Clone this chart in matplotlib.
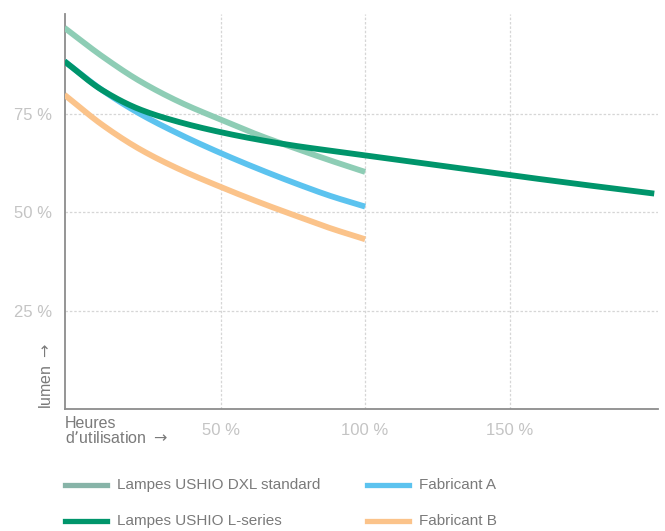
import matplotlib
matplotlib.use("Agg")
import numpy as np
import matplotlib.pyplot as plt
from matplotlib.lines import Line2D

# ---- data ----
hours_short = [-4, 9, 22, 36, 50, 63, 77, 88, 100]
hours_long = hours_short + [125, 150, 175, 200]

dxl_standard = [96.8, 89.6, 83.3, 77.9, 73.5, 69.6, 65.9, 63.1, 60.2]
l_series = [88.3, 81.0, 76.1, 72.8, 70.3, 68.4, 66.7, 65.6, 64.4,
            61.9, 59.4, 57.0, 54.7]
fabricant_a = [88.3, 81.0, 75.0, 69.7, 65.0, 61.0, 57.0, 54.1, 51.4]
fabricant_b = [79.8, 72.2, 66.0, 60.8, 56.4, 52.6, 48.8, 45.9, 43.1]

x_ticks = [50, 100, 150]
x_ticklabels = ["50 %", "100 %", "150 %"]
y_ticks = [25, 50, 75]
y_ticklabels = ["25 %", "50 %", "75 %"]

labels = ["Lampes USHIO DXL standard", "Lampes USHIO L-series",
          "Fabricant A", "Fabricant B"]


def smooth_line(x, y, n=300):
    """Monotone cubic (Fritsch-Carlson) rendering of a line through the points."""
    x = np.asarray(x, float)
    y = np.asarray(y, float)
    h = np.diff(x)
    d = np.diff(y) / h
    m = np.zeros_like(y)
    m[0], m[-1] = d[0], d[-1]
    for i in range(1, len(y) - 1):
        if d[i - 1] * d[i] <= 0:
            m[i] = 0
        else:
            w1 = 2 * h[i] + h[i - 1]
            w2 = h[i] + 2 * h[i - 1]
            m[i] = (w1 + w2) / (w1 / d[i - 1] + w2 / d[i])
    xs = np.linspace(x[0], x[-1], n)
    idx = np.clip(np.searchsorted(x, xs) - 1, 0, len(x) - 2)
    t = (xs - x[idx]) / h[idx]
    h00 = 2 * t**3 - 3 * t**2 + 1
    h10 = t**3 - 2 * t**2 + t
    h01 = -2 * t**3 + 3 * t**2
    h11 = t**3 - t**2
    ys = h00 * y[idx] + h10 * h[idx] * m[idx] + h01 * y[idx + 1] + h11 * h[idx] * m[idx + 1]
    return xs, ys


# ---- style ----
plt.rcParams['font.family'] = ['Liberation Sans', 'DejaVu Sans']
plt.rcParams['mathtext.fontset'] = 'dejavusans'
c_dxl = "#8ecdb5"
c_dxl_leg = "#87b4a8"
c_l = "#00956b"
c_a = "#5cc3ef"
c_b = "#fbc38a"
txt = "#7a7a7a"
tick_c = "#c4c4c4"

W, H = 665, 531
fig = plt.figure(figsize=(W / 100, H / 100), dpi=100)
ax = fig.add_axes([65 / W, (H - 409) / H, (658 - 65) / W, (409 - 14) / H])

lw = 4.2
for xv, yv, col, z in [(hours_short, dxl_standard, c_dxl, 3),
                       (hours_short, fabricant_b, c_b, 3),
                       (hours_short, fabricant_a, c_a, 3),
                       (hours_long, l_series, c_l, 4)]:
    xs, ys = smooth_line(xv, yv)
    ax.plot(xs, ys, color=col, lw=lw, solid_capstyle="butt", zorder=z)

ax.set_xlim(-3.8, 201.3)
ax.set_ylim(0, 100.3)

ax.set_xticks(x_ticks)
ax.set_xticklabels(x_ticklabels)
ax.set_yticks(y_ticks)
ax.set_yticklabels(y_ticklabels)
ax.tick_params(axis="both", length=0, colors=tick_c, labelsize=12)
ax.tick_params(axis="y", pad=9)
ax.tick_params(axis="x", pad=10)

ax.grid(True, color="#d6d6d6", lw=0.9, ls=(0, (2, 1.5)), zorder=0)

for s in ["top", "right"]:
    ax.spines[s].set_visible(False)
for s in ["left", "bottom"]:
    ax.spines[s].set_color("#8c8c8c")
    ax.spines[s].set_linewidth(1.3)

fig.text(65 / W, 1 - 416 / H, "Heures\nd\u2019utilisation $\\rightarrow$", color=txt,
         fontsize=11.5, ha="left", va="top", linespacing=0.95)
fig.text(46 / W, 1 - 409 / H, "lumen $\\rightarrow$", color=txt, fontsize=11.5,
         rotation=90, ha="center", va="bottom")

# legend
leg_items = [(labels[0], c_dxl_leg, 65, 485), (labels[1], c_l, 65, 521),
             (labels[2], c_a, 367, 485), (labels[3], c_b, 367, 521)]
for lab, col, x0, y0 in leg_items:
    fig.add_artist(Line2D([x0 / W, (x0 + 42) / W], [1 - y0 / H, 1 - y0 / H],
                          color=col, lw=3.8, transform=fig.transFigure))
    fig.text((x0 + 52) / W, 1 - y0 / H, lab, color=txt, fontsize=11,
             ha="left", va="center")

fig.savefig("out.png", dpi=100, facecolor="white")
